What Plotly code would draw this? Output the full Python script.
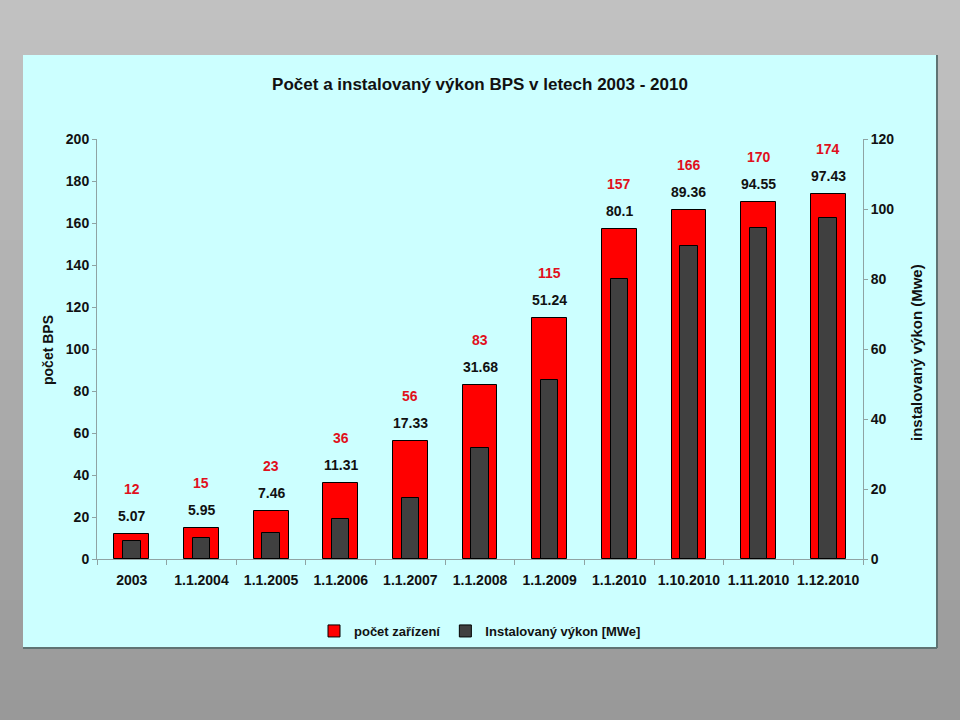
import plotly.graph_objects as go

categories = ["2003", "1.1.2004", "1.1.2005", "1.1.2006", "1.1.2007", "1.1.2008",
              "1.1.2009", "1.1.2010", "1.10.2010", "1.11.2010", "1.12.2010"]
pocet = [12, 15, 23, 36, 56, 83, 115, 157, 166, 170, 174]
vykon = [5.07, 5.95, 7.46, 11.31, 17.33, 31.68, 51.24, 80.1, 89.36, 94.55, 97.43]
left_ticks = list(range(0, 201, 20))
right_ticks = list(range(0, 121, 20))

W, H = 960, 720
L, R, T, B = 97, 97, 139, 161
pw = W - L - R
ph = H - T - B


def px(x):
    return (x - L) / pw


def py(y):
    return (H - B - y) / ph


FONT = "Liberation Sans, Arial, sans-serif"
AXC = "#8fa3a3"

fig = go.Figure()
fig.add_bar(x=categories, y=pocet, name="počet zařízení", yaxis="y",
            marker=dict(color="#ff0000", line=dict(color="#000000", width=1)),
            width=0.5)
fig.add_bar(x=categories, y=vykon, name="Instalovaný výkon [MWe]", yaxis="y2",
            marker=dict(color="#404040", line=dict(color="#000000", width=1)),
            width=0.25)

shapes = []
# gradient grey page background
n = 36
for i in range(n):
    y0 = i * H / n
    y1 = (i + 1) * H / n
    t = (i + 0.5) / n
    c = int(round(194 - 42 * t))
    shapes.append(dict(type="rect", xref="paper", yref="paper", layer="below",
                       x0=px(0), x1=px(W), y0=py(y1), y1=py(y0),
                       fillcolor=f"rgb({c},{c},{c})", line=dict(width=0)))
# cyan chart area
shapes.append(dict(type="rect", xref="paper", yref="paper", layer="below",
                   x0=px(23), x1=px(937), y0=py(648), y1=py(55),
                   fillcolor="#ccffff", line=dict(width=0)))
shapes.append(dict(type="line", xref="paper", yref="paper", layer="below",
                   x0=px(23), x1=px(937), y0=py(648), y1=py(648),
                   line=dict(color="#5f7373", width=2)))
shapes.append(dict(type="line", xref="paper", yref="paper", layer="below",
                   x0=px(937), x1=px(937), y0=py(648), y1=py(55),
                   line=dict(color="#5f7373", width=2)))

annotations = []
for i, (p, v) in enumerate(zip(pocet, vykon)):
    annotations.append(dict(x=i, y=p, xref="x", yref="y", text=str(p), showarrow=False,
                            xanchor="center", yanchor="middle", yshift=45,
                            font=dict(family=FONT, size=14, color="#e0101c", weight="bold")))
    annotations.append(dict(x=i, y=p, xref="x", yref="y", text=str(v), showarrow=False,
                            xanchor="center", yanchor="middle", yshift=18,
                            font=dict(family=FONT, size=14, color="#111111", weight="bold")))

annotations.append(dict(x=px(48), y=py(350), xref="paper", yref="paper", text="počet BPS",
                        textangle=-90, showarrow=False, xanchor="center", yanchor="middle",
                        font=dict(family=FONT, size=14, color="#111111", weight="bold")))
annotations.append(dict(x=px(916), y=py(353), xref="paper", yref="paper",
                        text="instalovaný výkon (Mwe)", textangle=-90, showarrow=False,
                        xanchor="center", yanchor="middle",
                        font=dict(family=FONT, size=15, color="#111111", weight="bold")))

fig.update_layout(
    width=W, height=H,
    margin=dict(l=L, r=R, t=T, b=B, pad=0),
    paper_bgcolor="#b0b0b0",
    plot_bgcolor="rgba(0,0,0,0)",
    barmode="overlay",
    bargap=0,
    showlegend=True,
    title=dict(text="Počet a instalovaný výkon BPS v letech 2003 - 2010",
               x=0.5, xanchor="center", xref="container",
               y=1 - 84 / H, yanchor="middle", yref="container",
               font=dict(family=FONT, size=17, color="#111111", weight="bold")),
    legend=dict(orientation="h", x=0.5, xanchor="center", y=py(631), yanchor="middle",
                bgcolor="rgba(0,0,0,0)", itemwidth=30,
                font=dict(family=FONT, size=13, color="#111111", weight="bold")),
    xaxis=dict(type="category", range=[-0.5, len(categories) - 0.5],
               showline=True, linecolor=AXC, linewidth=1,
               ticks="outside", tickson="boundaries", ticklen=5, tickcolor=AXC,
               tickangle=0, ticklabelstandoff=8,
               showgrid=False, zeroline=False,
               tickfont=dict(family=FONT, size=14, color="#111111", weight="bold")),
    yaxis=dict(range=[0, 200], tickvals=left_ticks, showline=True, linecolor=AXC,
               linewidth=1, ticks="outside", ticklen=4, tickcolor=AXC,
               showgrid=False, zeroline=False,
               tickfont=dict(family=FONT, size=14, color="#111111", weight="bold")),
    yaxis2=dict(range=[0, 120], tickvals=right_ticks, overlaying="y", side="right",
                showline=True, linecolor=AXC, linewidth=1, ticks="outside", ticklen=4,
                tickcolor=AXC, showgrid=False, zeroline=False,
                tickfont=dict(family=FONT, size=14, color="#111111", weight="bold")),
    shapes=shapes,
    annotations=annotations,
)

fig.write_html("out.html")
